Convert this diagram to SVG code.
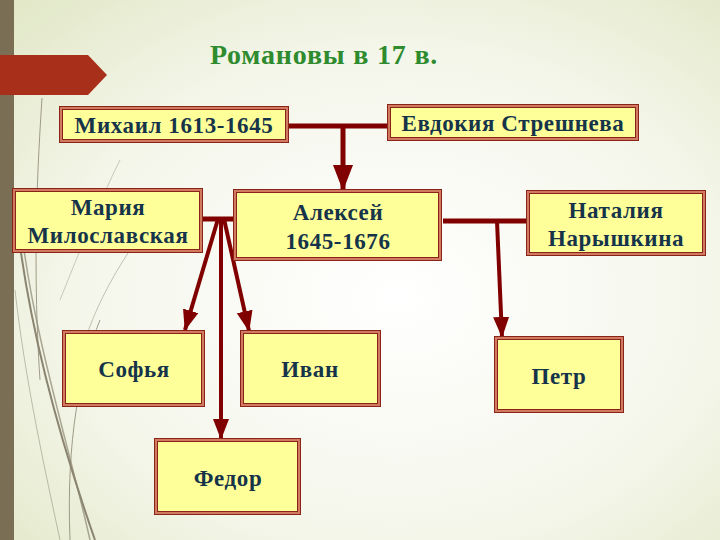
<svg xmlns="http://www.w3.org/2000/svg" width="720" height="540" viewBox="0 0 720 540">
<defs>
<radialGradient id="bg" cx="0.55" cy="0.55" r="0.75">
<stop offset="0" stop-color="#ffffff"/>
<stop offset="0.6" stop-color="#f4f6ea"/>
<stop offset="1" stop-color="#e2e8c8"/>
</radialGradient>
<marker id="ah" markerWidth="5.2" markerHeight="4" refX="5" refY="2" orient="auto" markerUnits="strokeWidth">
<path d="M0,0 L5.2,2 L0,4 Z" fill="#800000"/>
</marker>
<style>
.box{fill:#ffff99;stroke:#d07a60;stroke-width:3}
.edge{fill:none;stroke:#8b2418;stroke-width:1}
.t{font-family:"Liberation Serif","Times New Roman",serif;font-weight:bold;font-size:23px;letter-spacing:0.6px;fill:#15344a;text-anchor:middle}
.c{stroke:#800000;fill:none}
.deco{stroke:#8a8470;fill:none}
</style>
</defs>
<rect width="720" height="540" fill="url(#bg)"/>
<g id="decor">
<rect x="0" y="0" width="14" height="540" fill="#7a6f55"/>
<path class="deco" stroke-width="0.8" d="M42,98 C38,160 32,260 40,380"/>
<path class="deco" stroke-width="2" d="M18,230 C30,330 60,440 95,540"/>
<path class="deco" stroke-width="1.5" d="M22,235 C35,340 70,450 90,540" opacity="0.7"/>
<path class="deco" stroke-width="1" d="M15,290 C25,380 45,470 60,540" opacity="0.5"/>
<path class="deco" stroke-width="1" d="M100,320 C80,370 66,440 70,540" opacity="0.8"/>
<path class="deco" stroke-width="0.8" d="M120,160 C100,200 80,250 60,300" opacity="0.5"/>
<path class="deco" stroke-width="0.8" d="M130,250 C110,280 95,310 85,340" opacity="0.6"/>
<path d="M0,55 L88,55 L107,75 L88,95 L0,95 Z" fill="#a8301a"/>
</g>
<text x="324" y="64" font-family="Liberation Serif, serif" font-weight="bold" font-size="28" letter-spacing="0.8" fill="#2e8b2e" text-anchor="middle">Романовы в 17 в.</text>
<g id="connectors">
<path class="c" stroke-width="5" d="M288,126 H388"/>
<path class="c" stroke-width="5" d="M343,126 V190" marker-end="url(#ah)"/>
<path class="c" stroke-width="5" d="M202,219 H234"/>
<path class="c" stroke-width="4" d="M218,219 L185,330" marker-end="url(#ah)"/>
<path class="c" stroke-width="4" d="M221,219 V439" marker-end="url(#ah)"/>
<path class="c" stroke-width="4" d="M224,219 L249,331" marker-end="url(#ah)"/>
<path class="c" stroke-width="5" d="M443,221 H527"/>
<path class="c" stroke-width="4" d="M497,221 L502,337" marker-end="url(#ah)"/>
</g>
<g id="mikhail"><rect class="box" x="61" y="108" width="226" height="33"/><rect class="edge" x="59.5" y="106.5" width="229" height="36"/><rect class="edge" x="62.5" y="109.5" width="223" height="30"/><text class="t" x="174" y="133">Михаил 1613-1645</text></g>
<g id="evdokia"><rect class="box" x="389" y="106" width="248" height="33"/><rect class="edge" x="387.5" y="104.5" width="251" height="36"/><rect class="edge" x="390.5" y="107.5" width="245" height="30"/><text class="t" x="513" y="131">Евдокия Стрешнева</text></g>
<g id="maria"><rect class="box" x="14" y="190" width="187" height="61"/><rect class="edge" x="12.5" y="188.5" width="190" height="64"/><rect class="edge" x="15.5" y="191.5" width="184" height="58"/><text class="t" x="108" y="215">Мария</text><text class="t" x="108" y="243">Милославская</text></g>
<g id="aleksei"><rect class="box" x="235" y="191" width="205" height="68"/><rect class="edge" x="233.5" y="189.5" width="208" height="71"/><rect class="edge" x="236.5" y="192.5" width="202" height="65"/><text class="t" x="338" y="220">Алексей</text><text class="t" x="338" y="249">1645-1676</text></g>
<g id="natalia"><rect class="box" x="528" y="192" width="176" height="62"/><rect class="edge" x="526.5" y="190.5" width="179" height="65"/><rect class="edge" x="529.5" y="193.5" width="173" height="59"/><text class="t" x="616" y="218">Наталия</text><text class="t" x="616" y="246">Нарышкина</text></g>
<g id="sofia"><rect class="box" x="64" y="332" width="139" height="73"/><rect class="edge" x="62.5" y="330.5" width="142" height="76"/><rect class="edge" x="65.5" y="333.5" width="136" height="70"/><text class="t" x="134" y="377">Софья</text></g>
<g id="ivan"><rect class="box" x="242" y="332" width="137" height="73"/><rect class="edge" x="240.5" y="330.5" width="140" height="76"/><rect class="edge" x="243.5" y="333.5" width="134" height="70"/><text class="t" x="310" y="377">Иван</text></g>
<g id="petr"><rect class="box" x="496" y="338" width="126" height="73"/><rect class="edge" x="494.5" y="336.5" width="129" height="76"/><rect class="edge" x="497.5" y="339.5" width="123" height="70"/><text class="t" x="559" y="384">Петр</text></g>
<g id="fedor"><rect class="box" x="156" y="440" width="143" height="73"/><rect class="edge" x="154.5" y="438.5" width="146" height="76"/><rect class="edge" x="157.5" y="441.5" width="140" height="70"/><text class="t" x="228" y="486">Федор</text></g>
</svg>
